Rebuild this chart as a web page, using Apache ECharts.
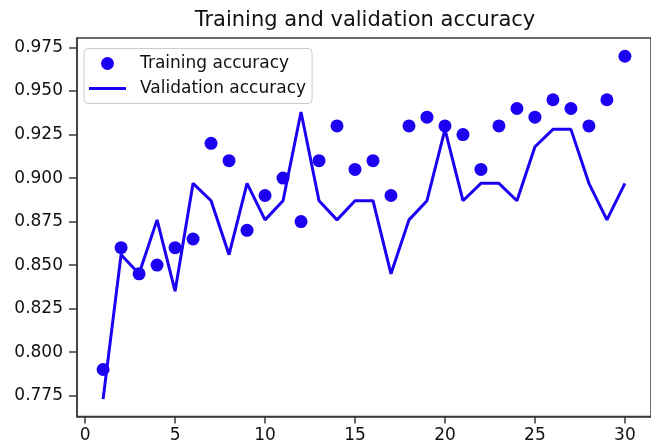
<!DOCTYPE html>
<html>
<head>
<meta charset="utf-8">
<script src="https://cdn.jsdelivr.net/npm/echarts@6/dist/echarts.min.js"></script>
<style>
html,body{margin:0;padding:0;background:#fff;}
#chart{width:651px;height:445px;}
</style>
</head>
<body>
<div id="chart"></div>
<script>
var epochs = [1,2,3,4,5,6,7,8,9,10,11,12,13,14,15,16,17,18,19,20,21,22,23,24,25,26,27,28,29,30];
var trainingAccuracy = [0.790,0.860,0.845,0.850,0.860,0.865,0.920,0.910,0.870,0.890,0.900,0.875,0.910,0.930,0.905,0.910,0.890,0.930,0.935,0.930,0.925,0.905,0.930,0.940,0.935,0.945,0.940,0.930,0.945,0.970];
var validationAccuracy = [0.773,0.856,0.845,0.876,0.835,0.897,0.887,0.856,0.897,0.876,0.887,0.938,0.887,0.876,0.887,0.887,0.845,0.876,0.887,0.928,0.887,0.897,0.897,0.887,0.918,0.928,0.928,0.897,0.876,0.897];
var xTicks = [0,5,10,15,20,25,30];
var yTicks = [0.775,0.800,0.825,0.850,0.875,0.900,0.925,0.950,0.975];
var titleText = 'Training and validation accuracy';
var seriesNames = ['Training accuracy','Validation accuracy'];

var color = '#1c00f2';
var font = 'DejaVu Sans';
var axisColor = '#3a3a3a';
var lineIcon = 'path://M0,0h37v0.01h-37z M0,5h37v3h-37z M0,12.99h37v0.01h-37z';

var chart = echarts.init(document.getElementById('chart'), null, {renderer:'canvas'});
chart.setOption({
  animation:false,
  backgroundColor:'#fff',
  title:{
    text:titleText,
    left:360,
    top:5,
    textAlign:'center',
    textStyle:{fontFamily:font,fontWeight:'normal',fontSize:21,color:'#111'}
  },
  grid:{
    left:77, top:38, width:579, height:378.5,
    show:true, borderColor:axisColor, borderWidth:1.5, backgroundColor:'transparent'
  },
  legend:{
    orient:'vertical',
    left:84, top:48.5,
    padding:[5,6,5,5],
    itemGap:5,
    itemWidth:37, itemHeight:13,
    borderColor:'#cccccc', borderWidth:1, borderRadius:4,
    backgroundColor:'rgba(255,255,255,0.85)',
    textStyle:{fontFamily:font,fontSize:17,color:'#111',lineHeight:20,padding:[0,0,0,9]},
    data:[{name:seriesNames[0], icon:'circle'},{name:seriesNames[1], icon:lineIcon}]
  },
  xAxis:{
    type:'value', min:-0.45, max:31.45,
    splitLine:{show:false},
    axisLine:{show:true,onZero:false,lineStyle:{color:axisColor,width:1.5}},
    axisTick:{show:true,length:7,customValues:xTicks,lineStyle:{color:axisColor,width:1.5}},
    axisLabel:{customValues:xTicks,fontFamily:font,fontSize:17,color:'#111',margin:11,showMinLabel:true,showMaxLabel:true}
  },
  yAxis:{
    type:'value', min:0.763, max:0.9805,
    splitLine:{show:false},
    axisLine:{show:true,onZero:false,lineStyle:{color:axisColor,width:1.5}},
    axisTick:{show:true,length:8,customValues:yTicks,lineStyle:{color:axisColor,width:1.5}},
    axisLabel:{customValues:yTicks,fontFamily:font,fontSize:17,color:'#111',margin:14,
      formatter:function(v){return v.toFixed(3);}}
  },
  series:[
    {
      name:seriesNames[0], type:'scatter', symbol:'circle', symbolSize:13,
      itemStyle:{color:color,opacity:1},
      data:epochs.map(function(e,i){return [e,trainingAccuracy[i]];}),
      z:3
    },
    {
      name:seriesNames[1], type:'line', symbol:'none', showSymbol:false,
      lineStyle:{color:color,width:3}, itemStyle:{color:color},
      data:epochs.map(function(e,i){return [e,validationAccuracy[i]];}),
      z:2
    }
  ]
});
</script>
</body>
</html>
